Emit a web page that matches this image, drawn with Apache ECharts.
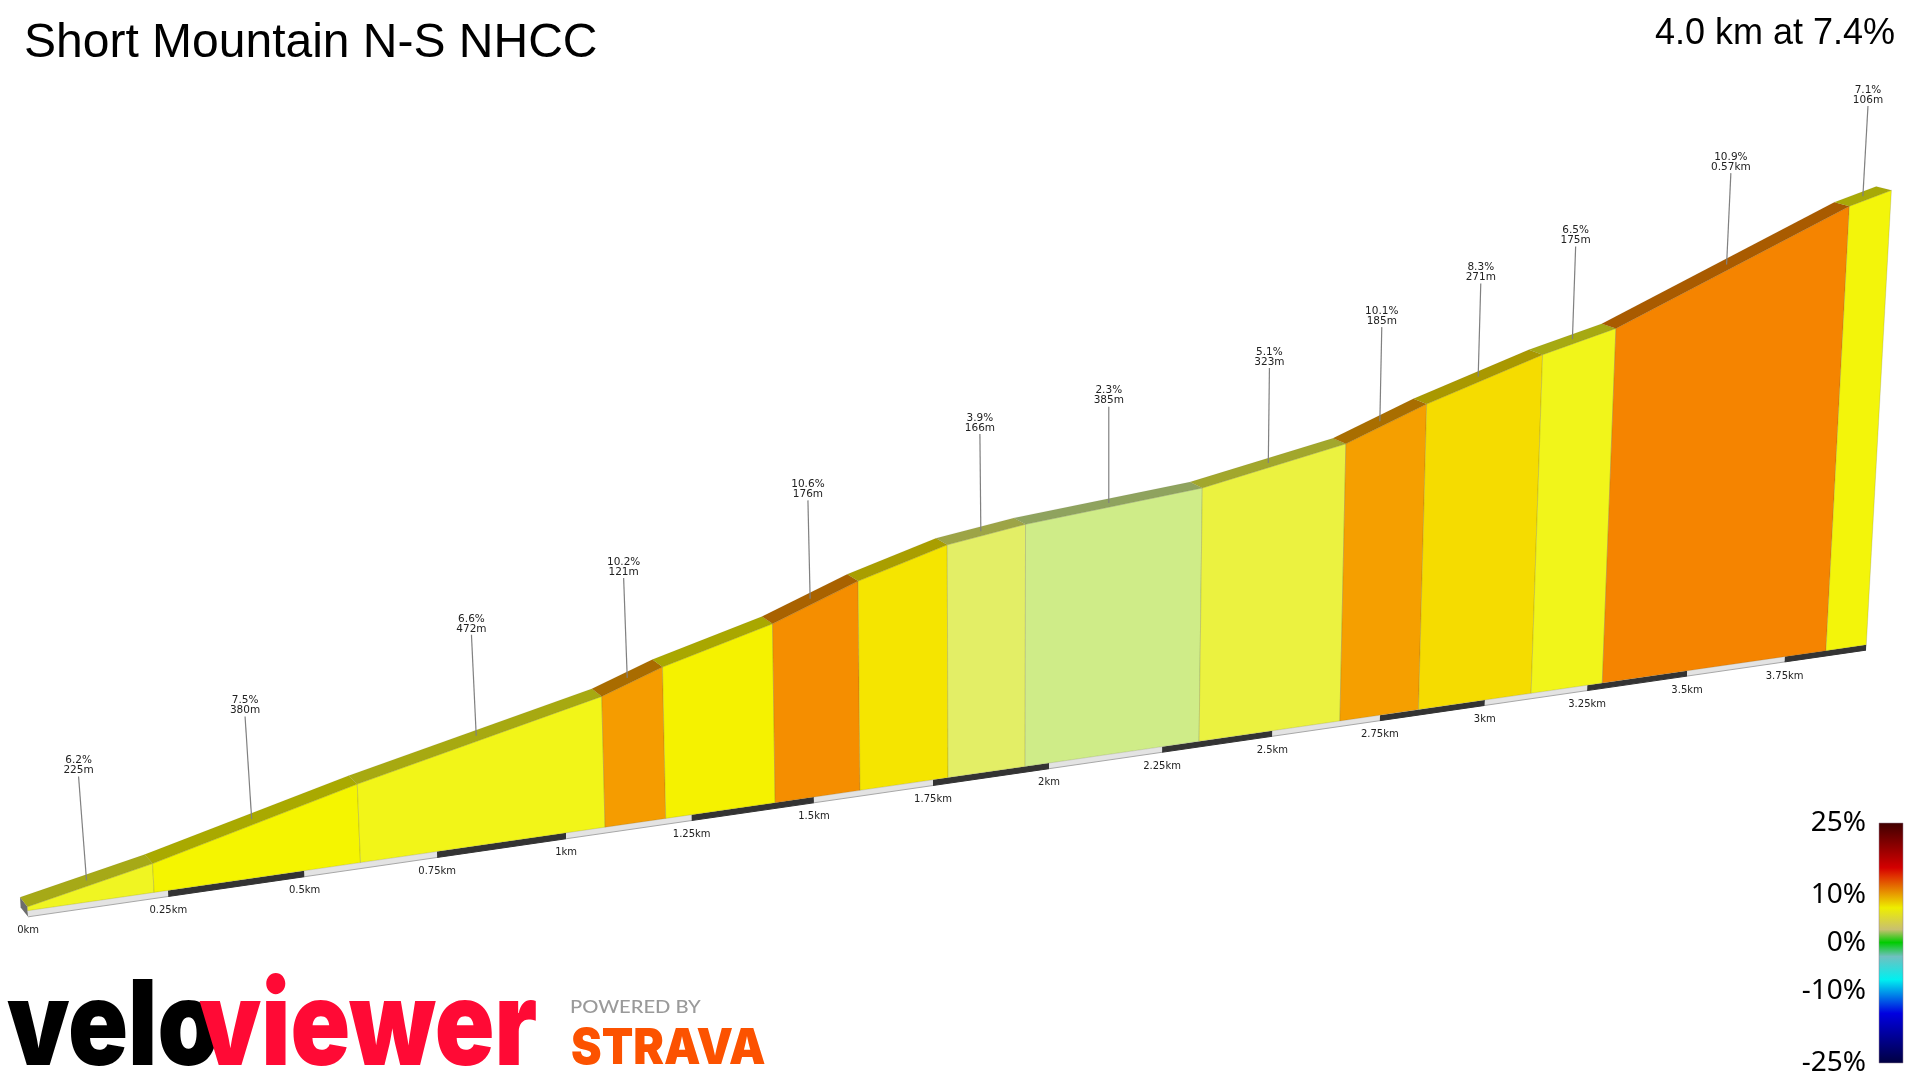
<!DOCTYPE html>
<html>
<head>
<meta charset="utf-8">
<title>Short Mountain N-S NHCC</title>
<script src="https://cdn.jsdelivr.net/npm/echarts@6/dist/echarts.min.js"></script>
<style>
  html, body { margin: 0; padding: 0; background: #fff; }
  #chart { width: 1920px; height: 1080px; }
</style>
</head>
<body>
<div id="chart"></div>
<script>
// climb segments
const segmentLengths = [225, 380, 472, 121, 222, 176, 186, 166, 385, 323, 185, 271, 175, 570, 106]
const segmentGrades = [6.2, 7.5, 6.6, 10.2, 7.6, 10.6, 8.0, 3.9, 2.3, 5.1, 10.1, 8.3, 6.5, 10.9, 7.1]
const segmentLabels = ['225m', '380m', '472m', '121m', '', '176m', '', '166m', '385m', '323m', '185m', '271m', '175m', '0.57km', '106m']

const distanceTicks = [0, 0.25, 0.5, 0.75, 1, 1.25, 1.5, 1.75, 2, 2.25, 2.5, 2.75, 3, 3.25, 3.5, 3.75]
const legendTicks = [-25, -10, 0, 10, 25]

// gradient -> colour, used by the faces
const gradeStops = [2.3, 3.9, 5.1, 6.2, 7.5, 8.3, 10.1, 10.9]
const gradeColors = ['#cfec88', '#e3ee66', '#ebf240', '#f0f522', '#f5f500', '#f5dc00', '#f59f00', '#f58400']

// legend bar stops, grade / colour
const legendStops = [25, 15.6, 13.9, 7.3, 2.8, 0.1, -2.8, -7.6, -14.6, -25]
const legendColors = ['#3f0000', '#d40000', '#e03000', '#eeee00', '#c8c070', '#00cc00', '#70c0c0', '#00f0f0', '#0000e0', '#000040']

const SLAB = 2.2      // height of the slab under the road, metres
const STRIP = 3.4     // height of the distance strip, metres
const LEADER = 58     // callout line height, metres

// camera used for the picture: km along the road + metres up -> page axes
function project(km, m) {
  const run = km / (0.0017572 + 0.0001005 * km)
  const x = 27.7 + run
  const y = 910.7 - 0.1446 * run
  const h = m * 1.8 / (1 + 0.04 * km)
  return [x + 6.38e-5 * (x - 1000) * h, y - h]
}
// far edge of the road surface
function back(p) {
  return [p[0] - 7.4 - 0.0042 * (p[0] - 27), p[1] - 9.4 + 0.003 * (p[0] - 27)]
}
function colorOf(grade) {
  let i = 0
  while (i < gradeStops.length - 2 && grade > gradeStops[i + 1]) i++
  const t = (grade - gradeStops[i]) / (gradeStops[i + 1] - gradeStops[i])
  return echarts.color.lerp(Math.max(0, Math.min(1, t)), [gradeColors[i], gradeColors[i + 1]])
}
function shade(color) {
  const c = echarts.color.parse(color)
  return 'rgb(' + [c[0], c[1], c[2]].map(v => Math.round(v * 0.69)).join(',') + ')'
}

// km start, km end, metres start, metres end, grade, index
const segments = []
let km = 0, climbed = 0
segmentLengths.forEach((len, i) => {
  const up = len * segmentGrades[i] / 100
  segments.push([km, km + len / 1000, climbed, climbed + up, segmentGrades[i], i])
  km += len / 1000
  climbed += up
})
const totalKm = km

function renderFace(params, api) {
  const k0 = api.value(0), k1 = api.value(1)
  const m0 = api.value(2) + SLAB, m1 = api.value(3) + SLAB
  const color = colorOf(api.value(4))
  const a = project(k0, 0), b = project(k1, 0), c = project(k1, m1), d = project(k0, m0)
  const pts = (list) => list.map(p => api.coord(p))
  return {
    type: 'group',
    children: [{
      type: 'polygon',
      shape: { points: pts([a, b, c, d]) },
      style: { fill: color, stroke: 'rgba(90,90,60,0.2)', lineWidth: 1 }
    }, {
      type: 'polygon',
      shape: { points: pts([d, c, back(c), back(d)]) },
      style: { fill: shade(color), stroke: 'rgba(60,60,30,0.12)', lineWidth: 0.5 }
    }]
  }
}

function renderStrip(params, api) {
  const i = params.dataIndex
  const k0 = distanceTicks[i]
  const k1 = i + 1 < distanceTicks.length ? distanceTicks[i + 1] : totalKm
  const a = api.coord(project(k0, 0)), b = api.coord(project(k1, 0))
  const c = api.coord(project(k1, -STRIP)), d = api.coord(project(k0, -STRIP))
  const children = [{
    type: 'polygon',
    shape: { points: [a, b, c, d] },
    style: { fill: i % 2 ? '#333333' : '#e3e3e3' }
  }, {
    type: 'line',
    shape: { x1: d[0], y1: d[1], x2: c[0], y2: c[1] },
    style: { stroke: i % 2 ? '#333333' : '#a8a8a8', lineWidth: 1 }
  }, {
    type: 'text',
    style: {
      x: d[0], y: d[1] + 14, text: k0 + 'km', align: 'center', verticalAlign: 'middle',
      font: '10px "DejaVu Sans"', fill: '#222'
    }
  }]
  if (i === 0) {
    const top = project(0, SLAB), low = project(0, -STRIP)
    children.unshift({
      type: 'polygon',
      shape: { points: [top, low, back(low), back(top)].map(p => api.coord(p)) },
      style: { fill: '#6c6c6c' }
    })
  }
  return { type: 'group', children: children }
}

function renderCallout(params, api) {
  const k = (api.value(0) + api.value(1)) / 2
  const m = (api.value(2) + api.value(3)) / 2 + SLAB
  const label = segmentLabels[api.value(5)]
  if (!label) return null
  const front = project(k, m), far = back(front)
  const footAt = [(front[0] + far[0]) / 2, (front[1] + far[1]) / 2]
  const lift = front[1] - project(k, m + LEADER)[1]
  // the callouts lean around a point further right than the faces do
  const headAt = [footAt[0] + 7.5e-5 * (footAt[0] - 1108) * lift, footAt[1] - lift]
  const foot = api.coord(footAt)
  const head = api.coord(headAt)
  return {
    type: 'group',
    children: [{
      type: 'line',
      shape: { x1: foot[0], y1: foot[1], x2: head[0], y2: head[1] },
      style: { stroke: '#808080', lineWidth: 1.2 }
    }, {
      type: 'text',
      style: {
        x: head[0], y: head[1] - 1, text: api.value(4) + '%\n' + label,
        align: 'center', verticalAlign: 'bottom', lineHeight: 10,
        font: '10.5px "DejaVu Sans"', fill: '#222'
      }
    }]
  }
}

function renderLegend(params, api) {
  const a = api.coord([api.value(0), api.value(3)])
  const b = api.coord([api.value(2), api.value(1)])
  const stops = legendStops.map((g, i) => ({ offset: (25 - g) / 50, color: legendColors[i] }))
  return {
    type: 'rect',
    shape: { x: a[0], y: a[1], width: b[0] - a[0], height: b[1] - a[1] },
    style: { fill: new echarts.graphic.LinearGradient(0, 0, 0, 1, stops), stroke: 'rgba(150,130,150,0.5)', lineWidth: 1 }
  }
}

const chart = echarts.init(document.getElementById('chart'))
chart.setOption({
  backgroundColor: '#fff',
  animation: false,
  title: [{
    text: 'Short Mountain N-S NHCC',
    left: 19, top: 15,
    textStyle: { fontFamily: 'Liberation Sans', fontSize: 48, fontWeight: 'normal', color: '#000' }
  }, {
    text: '4.0 km at 7.4%',
    right: 20, top: 11,
    textStyle: { fontFamily: 'Liberation Sans', fontSize: 36, fontWeight: 'normal', color: '#000' }
  }],
  grid: [
    { left: 0, top: 0, width: 1920, height: 1080 },
    { left: 1879, top: 823, width: 24, height: 240 }
  ],
  xAxis: [
    { type: 'value', gridIndex: 0, min: 0, max: 1920, show: false },
    { type: 'value', gridIndex: 1, min: 0, max: 1, show: false }
  ],
  yAxis: [
    { type: 'value', gridIndex: 0, min: 0, max: 1080, inverse: true, show: false },
    {
      type: 'value', gridIndex: 1, min: -25, max: 25,
      axisLine: { show: false }, axisTick: { show: false }, splitLine: { show: false },
      axisLabel: {
        customValues: legendTicks, formatter: '{value}%', margin: 13, padding: [0, 0, 5, 0],
        fontFamily: 'Noto Sans', fontSize: 28, color: '#000'
      }
    }
  ],
  series: [{
    type: 'custom', coordinateSystem: 'cartesian2d', xAxisIndex: 0, yAxisIndex: 0,
    renderItem: renderStrip, clip: false, silent: true,
    data: distanceTicks.map(k => [k])
  }, {
    type: 'custom', coordinateSystem: 'cartesian2d', xAxisIndex: 0, yAxisIndex: 0,
    renderItem: renderFace, clip: false, silent: true,
    data: segments
  }, {
    type: 'custom', coordinateSystem: 'cartesian2d', xAxisIndex: 0, yAxisIndex: 0,
    renderItem: renderCallout, clip: false, silent: true,
    data: segments
  }, {
    type: 'custom', coordinateSystem: 'cartesian2d', xAxisIndex: 1, yAxisIndex: 1,
    renderItem: renderLegend, clip: false, silent: true,
    data: [[0, -25, 1, 25]]
  }],
  graphic: [
    { type: 'text', left: 7, top: 971, scaleX: 0.84, style: { text: 'velo', font: '900 118px Inter', fill: '#000' } },
    { type: 'text', left: 199, top: 971, scaleX: 0.835, style: { text: 'viewer', font: '900 118px Inter', fill: '#ff0a35' } },
    { type: 'text', left: 570, top: 998, scaleX: 1.12, style: { text: 'POWERED BY', font: '500 18px Lato', fill: '#9a9a9a' } },
    { type: 'text', left: 571, top: 1024, scaleX: 0.92, style: { text: 'STRAVA', font: '900 50px Inter', fill: '#fc5200' } }
  ]
})
</script>
</body>
</html>
